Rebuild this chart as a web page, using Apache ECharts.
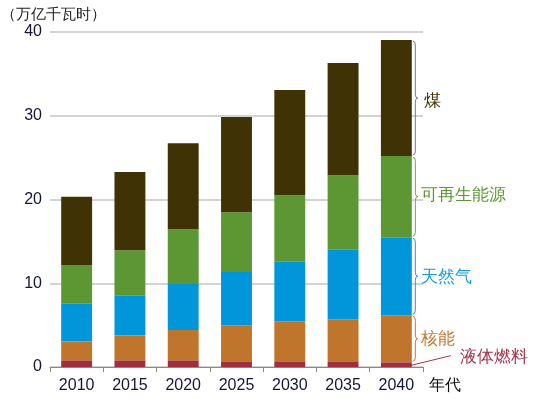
<!DOCTYPE html>
<html>
<head>
    <meta charset="utf-8">
    <script src="https://cdn.jsdelivr.net/npm/echarts@6/dist/echarts.min.js"></script>
</head>
<body style="margin:0">
    <div id="main" style="width:533px;height:399px;"></div>
    <script type="text/javascript">
        var years = ['2010', '2015', '2020', '2025', '2030', '2035', '2040'];
        var names = ['液体燃料', '核能', '天然气', '可再生能源', '煤'];
        var liquid = [0.8, 0.8, 0.8, 0.68, 0.68, 0.68, 0.56];
        var nuclear = [2.27, 2.98, 3.62, 4.3, 4.78, 5.02, 5.62];
        var gas = [4.55, 4.79, 5.5, 6.37, 7.17, 8.36, 9.32];
        var renewable = [4.55, 5.37, 6.53, 7.14, 7.89, 8.84, 9.68];
        var coal = [8.15, 9.33, 10.28, 11.35, 12.55, 13.4, 13.86];
        var yTicks = [0, 10, 20, 30, 40];

        var colors = ['#9f2f3e', '#bf752b', '#0096d9', '#5d9733', '#3f3204'];
        var textColors = ['#a3334a', '#c07830', '#1a9ad8', '#5d9733', '#3f3204'];
        var braceColors = ['#a3334a', '#c07830', '#1a9ad8', '#6aa83c', '#777'];
        var labelDy = [0, 1, 1, -1, 3];
        var values = [liquid, nuclear, gas, renewable, coal];

        var myChart = echarts.init(document.getElementById('main'));
        var font = '"Liberation Sans", Arial, sans-serif';

        var series = [];
        for (var i = 0; i < names.length; i++) {
            series.push({
                name: names[i],
                type: 'bar',
                stack: 'total',
                data: values[i],
                barCategoryGap: '42%',
                itemStyle: { color: colors[i] }
            });
        }

        // segments of the last bar, for the braces
        var last = years.length - 1;
        var braceData = [];
        var base = 0;
        for (var i = 0; i < names.length; i++) {
            braceData.push([last, base, base + values[i][last], i]);
            base += values[i][last];
        }

        function renderBrace(params, api) {
            var i = api.value(3);
            var p1 = api.coord([api.value(0), api.value(2)]);
            var p2 = api.coord([api.value(0), api.value(1)]);
            var half = api.size([1, 0])[0] * 0.58 / 2;
            var x0 = p1[0] + half + 1;
            var xm = x0 + 2.5;
            var y1 = p1[1], y2 = p2[1];
            var ym = (y1 + y2) / 2;
            var children = [];
            if (i > 0) {
                var d = 'M' + x0 + ' ' + (y1 + 1) +
                    ' Q' + xm + ' ' + (y1 + 1) + ' ' + xm + ' ' + (y1 + 5) +
                    ' L' + xm + ' ' + (ym - 4) +
                    ' Q' + xm + ' ' + ym + ' ' + (x0 + 5) + ' ' + ym +
                    ' Q' + xm + ' ' + ym + ' ' + xm + ' ' + (ym + 4) +
                    ' L' + xm + ' ' + (y2 - 5) +
                    ' Q' + xm + ' ' + (y2 - 1) + ' ' + x0 + ' ' + (y2 - 1);
                children.push({
                    type: 'path',
                    shape: { pathData: d },
                    style: { fill: null, stroke: braceColors[i], lineWidth: 1 }
                });
                children.push({
                    type: 'text',
                    x: x0 + (i == 4 ? 11 : 8),
                    y: ym + labelDy[i],
                    style: {
                        text: names[i], fill: textColors[i], fontSize: 16.5, fontFamily: font,
                        align: 'left', verticalAlign: 'middle'
                    }
                });
            } else {
                children.push({
                    type: 'line',
                    shape: { x1: x0 - 3, y1: ym + 1, x2: x0 + 38, y2: ym - 9 },
                    style: { stroke: textColors[i], lineWidth: 1 }
                });
                children.push({
                    type: 'text',
                    x: x0 + 47,
                    y: ym - 7,
                    style: {
                        text: names[i], fill: textColors[i], fontSize: 16.5, fontFamily: font,
                        align: 'left', verticalAlign: 'middle'
                    }
                });
            }
            return { type: 'group', children: children };
        }

        series.push({
            type: 'custom',
            data: braceData,
            encode: { x: 0, y: [1, 2] },
            clip: false,
            silent: true,
            z: 5,
            renderItem: renderBrace
        });

        myChart.setOption({
            animation: false,
            title: {
                text: '（万亿千瓦时）',
                left: -4,
                top: 2,
                textStyle: { fontSize: 15, fontWeight: 'normal', color: '#222', fontFamily: font }
            },
            grid: { left: 50, right: 110, top: 32, bottom: 32, containLabel: false },
            xAxis: {
                type: 'category',
                data: years,
                name: '年代',
                nameLocation: 'end',
                nameGap: 6,
                nameTextStyle: { fontSize: 16, color: '#111', fontFamily: font, verticalAlign: 'top', padding: [11, 0, 0, 0] },
                axisLine: { lineStyle: { color: '#888', width: 1 } },
                axisTick: { show: true, length: 5, lineStyle: { color: '#888' } },
                axisLabel: { fontSize: 16, color: '#15153a', fontFamily: font, margin: 11 }
            },
            yAxis: {
                type: 'value',
                min: yTicks[0],
                max: yTicks[yTicks.length - 1],
                interval: 10,
                axisLine: { show: false },
                axisTick: { show: false },
                axisLabel: { fontSize: 16, color: '#15153a', fontFamily: font, margin: 8 },
                splitLine: { lineStyle: { color: '#c4c4c4', width: 1.5 } }
            },
            series: series
        });
    </script>
</body>
</html>
